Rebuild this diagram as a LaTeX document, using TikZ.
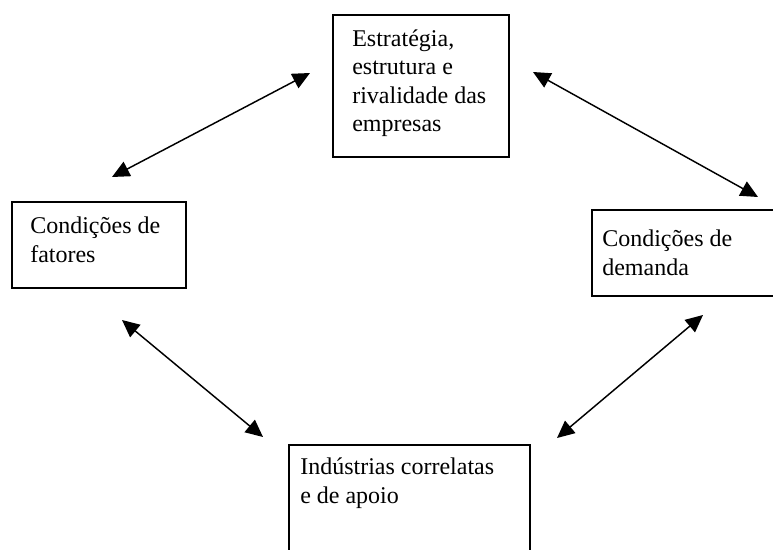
\documentclass[tikz,border=0pt]{standalone}
\usepackage{fontspec}
\setmainfont{Liberation Serif}
\usetikzlibrary{arrows.meta}
\tikzset{
  box/.style={draw=black, line width=1.1pt, fill=none},
  lbl/.style={anchor=base west, align=left, inner sep=0pt, font=\fontsize{18}{21.4}\selectfont},
  link/.style={line width=1.1pt, {Triangle[length=13pt,width=12pt]}-{Triangle[length=13pt,width=12pt]}}
}
\begin{document}
\begin{tikzpicture}[x=0.75pt,y=-0.75pt]
\useasboundingbox (0,0) rectangle (773,549);
\clip (0,0) rectangle (773,549);
% boxes
\draw[box] (333,15) rectangle (509,157);
\draw[box] (12,202) rectangle (186,288);
\draw[box] (592,210) rectangle (800,296);
\draw[box] (289,445) rectangle (530,580);
\node (top) at (421,86) {};
\node (left) at (99,245) {};
\node (right) at (696,253) {};
\node (bottom) at (409,510) {};
% texts
\node[lbl] (ttop) at (352,132) {Estratégia,\\estrutura e\\rivalidade das\\empresas};
\node[lbl] (tleft) at (30,262) {Condições de\\fatores};
\node[lbl] (tright) at (602,275) {Condições de\\demanda};
\node[lbl] (tbottom) at (300,503) {Indústrias correlatas\\e de apoio};
% arrow end points
\coordinate (a1s) at (112,177);
\coordinate (a1e) at (310,73);
\coordinate (a2s) at (533,72);
\coordinate (a2e) at (758,197);
\coordinate (a3s) at (122,320);
\coordinate (a3e) at (263,437);
\coordinate (a4s) at (703,315);
\coordinate (a4e) at (557,438);
\draw[link] (a1s) -- (a1e);
\draw[link] (a2s) -- (a2e);
\draw[link] (a3s) -- (a3e);
\draw[link] (a4s) -- (a4e);
\end{tikzpicture}
\end{document}
